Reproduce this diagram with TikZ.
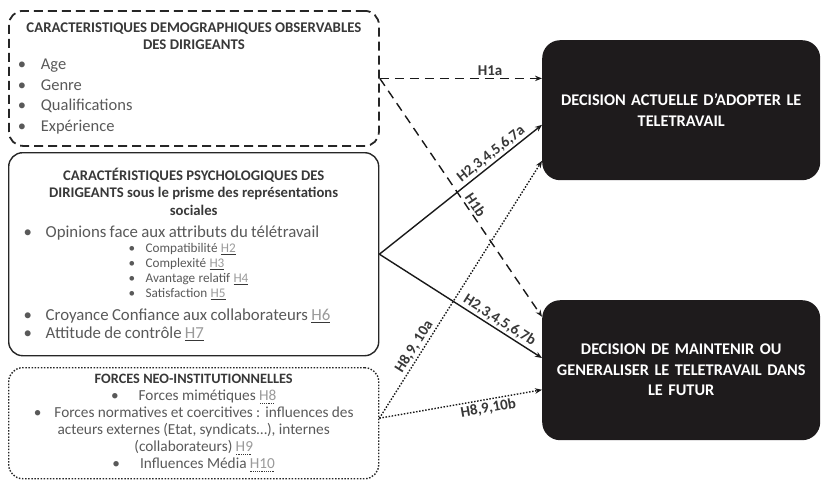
\documentclass[tikz,border=0pt]{standalone}
\usepackage{fontspec}
\setmainfont{Carlito}
\usepackage{tikz}
\usetikzlibrary{arrows.meta}

\definecolor{txtgray}{HTML}{595959}
\definecolor{ttlgray}{HTML}{383838}
\definecolor{hypgray}{HTML}{9A9A9A}
\definecolor{boxblack}{HTML}{1E1B1C}

\newsavebox{\hypbox}
\newcommand{\hs}[1]{{\color{ttlgray}\underline{\textcolor{hypgray}{#1}}}}
\newcommand{\hd}[1]{\sbox{\hypbox}{\textcolor{hypgray}{#1}}%
  \rlap{\textcolor{ttlgray}{\raisebox{-2.8pt}{\hbox to \wd\hypbox{\leaders\hbox to 2.2pt{\hss\rule{1.1pt}{1.1pt}\hss}\hfill}}}}%
  \usebox{\hypbox}}
\newcommand{\bul}{\makebox[23pt][l]{•}}
\newcommand{\bulb}{\hspace*{6pt}\makebox[22pt][l]{•}}
\newcommand{\subbul}{\hspace*{111pt}\makebox[17pt][l]{•}}

\begin{document}
\begin{tikzpicture}[x=1pt,y=-1pt,
  frame/.style={draw=black!85,line width=1.4pt,rounded corners=14pt,anchor=north west,
    minimum width=370pt,text width=352pt,inner xsep=9pt,inner ysep=0pt,text=txtgray},
  decision/.style={fill=boxblack,rounded corners=18pt,anchor=north west,
    minimum width=278pt,minimum height=140pt,text width=264pt,inner xsep=7pt,align=center,text=white,
    font=\fontsize{16.3}{20.5}\selectfont\bfseries},
  hyp/.style={font=\fontsize{15}{15}\selectfont\bfseries,text=ttlgray,inner sep=2pt},
  link/.style={line width=1.4pt,draw=black!90,-{Stealth[length=7pt,width=5.5pt]}},
  dashlink/.style={link,dash pattern=on 9pt off 6pt},
  dotlink/.style={link,dash pattern=on 1.5pt off 1.6pt}
]
\useasboundingbox (0,0) rectangle (821,480);

% facteurs explicatifs
\node[frame,dash pattern=on 9pt off 5pt,line width=1.8pt,minimum height=135pt] (dem) at (8,10) {%
  {\centering\fontsize{14.8}{17}\selectfont\bfseries\color{ttlgray}
   CARACTERISTIQUES DEMOGRAPHIQUES OBSERVABLES\\ DES DIRIGEANTS\par}
  \raggedright\fontsize{16.5}{20.5}\selectfont
  \bul Age\par
  \bul Genre\par
  \bul Qualifications\par
  \bul Expérience\par};

\node[frame,minimum height=203pt] (psy) at (8,152) {%
  {\centering\fontsize{14.7}{17.5}\selectfont\bfseries\color{ttlgray}
   CARACTÉRISTIQUES PSYCHOLOGIQUES DES\\ DIRIGEANTS sous le prisme des représentations\\ sociales\par}
  \raggedright
  {\fontsize{16.8}{22}\selectfont\bulb Opinions face aux attributs du télétravail\par}
  {\fontsize{13.2}{15}\selectfont
   \subbul Compatibilité \hs{H2}\par
   \subbul Complexité \hs{H3}\par
   \subbul Avantage relatif \hs{H4}\par
   \subbul Satisfaction \hs{H5}\par}
  {\fontsize{16.8}{23}\selectfont\bulb Croyance Confiance aux collaborateurs \hs{H6}\par}
  {\fontsize{16.8}{18}\selectfont\bulb Attitude de contrôle \hs{H7}\par}};

\node[frame,dash pattern=on 1.5pt off 1.6pt,minimum height=111pt] (neo) at (8,367) {%
  \centering\fontsize{15.3}{17}\selectfont
  {\bfseries\color{ttlgray}\fontsize{14.3}{17}\selectfont FORCES NEO-INSTITUTIONNELLES\par}
  •\hspace{20pt}Forces mimétiques \hd{H8}\par
  •\hspace{13pt}Forces normatives et coercitives : influences des\\
  acteurs externes (Etat, syndicats…), internes\\
  (collaborateurs) \hd{H9}\par
  •\hspace{20pt}Influences Média \hd{H10}\par};

% decisions
\node[decision] (adopt) at (542,40) {DECISION ACTUELLE D’ADOPTER LE\\ TELETRAVAIL};
\node[decision] (maint) at (542,300) {DECISION DE MAINTENIR OU\\ GENERALISER LE TELETRAVAIL DANS\\ LE FUTUR};

% hypotheses
\draw[dashlink] (dem.east) -- node[hyp,above,pos=0.68]{H1a} (dem.east -| adopt.west);
\draw[dashlink] (dem.east) -- node[hyp,sloped,above,pos=0.55]{H1b} (maint.159);
\draw[link] (psy.east) -- node[hyp,sloped,above,pos=0.72]{H2,3,4,5,6,7a} (adopt.186);
\draw[link] (psy.east) -- node[hyp,sloped,above,pos=0.71]{H2,3,4,5,6,7b} (maint.175);
\draw[dotlink] ([yshift=5pt]neo.east) -- node[hyp,sloped,above,pos=0.26]{H8,9, 10a} (adopt.200);
\draw[dotlink] ([yshift=5pt]neo.east) -- node[hyp,sloped,below,pos=0.66]{H8,9,10b} (maint.188);
\end{tikzpicture}
\end{document}
